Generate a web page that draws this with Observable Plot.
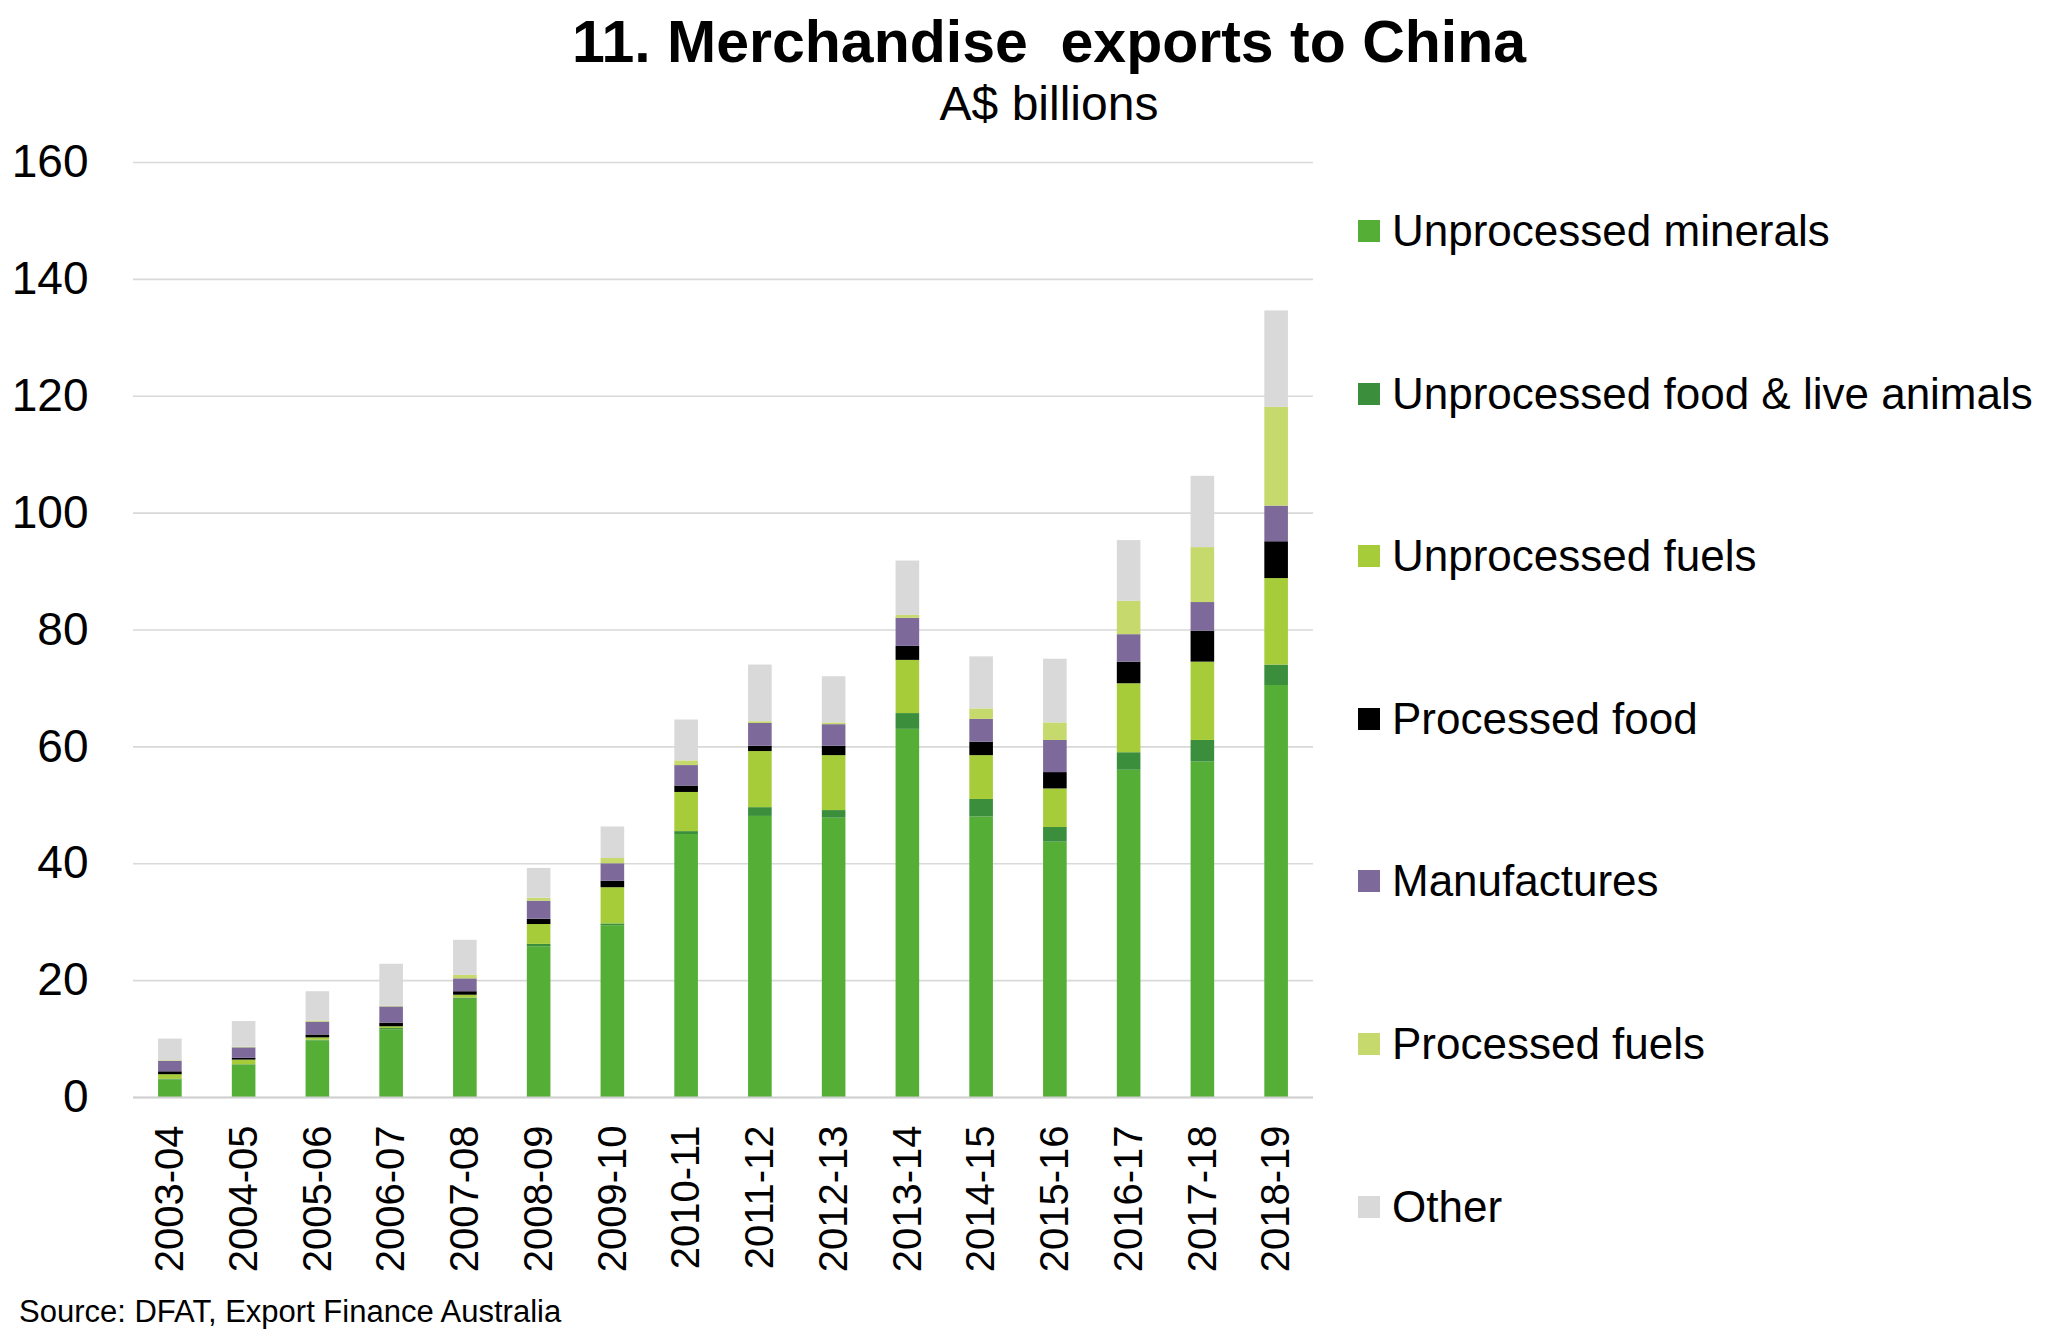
<!DOCTYPE html>
<html>
<head>
<meta charset="utf-8">
<script src="https://cdn.jsdelivr.net/npm/d3@7"></script>
<script src="https://cdn.jsdelivr.net/npm/@observablehq/plot@0.6"></script>
<style>
  html, body { margin: 0; padding: 0; background: #fff; }
  #root { position: relative; width: 2048px; height: 1340px; overflow: hidden; font-family: "Liberation Sans", Arial, sans-serif; color: #000; }
  #title { position: absolute; left: 549px; width: 1000px; top: 13px; text-align: center; font-size: 59px; font-weight: bold; line-height: 1; white-space: pre; }
  #subtitle { position: absolute; left: 549px; width: 1000px; top: 80px; text-align: center; font-size: 48px; line-height: 1; }
  #chart { position: absolute; left: 0; top: 0; }
  #legend { position: absolute; left: 1358px; top: 0; }
  .item { position: absolute; left: 0; display: flex; align-items: center; height: 44px; font-size: 44px; line-height: 1; white-space: nowrap; }
  .sw { width: 22px; height: 22px; margin-right: 12px; flex: none; }
  #source { position: absolute; left: 19px; top: 1296px; font-size: 31px; line-height: 1; }
</style>
</head>
<body>
<div id="root">
  <div id="chart"></div>
  <div id="title"></div>
  <div id="subtitle"></div>
  <div id="legend"></div>
  <div id="source"></div>
</div>
<script>
const titleText = "11. Merchandise  exports to China";
const subtitleText = "A$ billions";
const sourceText = "Source: DFAT, Export Finance Australia";

const years = ["2003-04","2004-05","2005-06","2006-07","2007-08","2008-09","2009-10","2010-11",
               "2011-12","2012-13","2013-14","2014-15","2015-16","2016-17","2017-18","2018-19"];

const categories = ["Unprocessed minerals","Unprocessed food & live animals","Unprocessed fuels",
                    "Processed food","Manufactures","Processed fuels","Other"];
const colors = ["#55ae35","#3a8e3c","#a6cd39","#000000","#7e6a9a","#c6d96c","#d9d9d9"];

const unprocessedMinerals = [3.0, 5.5, 9.7, 11.6, 16.8, 25.8, 29.4, 45.0, 48.1, 47.8, 63.0, 48.0, 43.7, 56.0, 57.4, 70.5];
const unprocessedFood     = [0.1, 0.1, 0.1, 0.2, 0.2, 0.4, 0.3, 0.5, 1.5, 1.3, 2.7, 3.0, 2.5, 3.0, 3.7, 3.5];
const unprocessedFuels    = [0.8, 0.8, 0.4, 0.3, 0.5, 3.4, 6.2, 6.7, 9.6, 9.4, 9.1, 7.5, 6.6, 11.8, 13.4, 14.8];
const processedFood       = [0.5, 0.3, 0.5, 0.6, 0.6, 0.9, 1.1, 1.1, 0.9, 1.6, 2.4, 2.3, 2.8, 3.7, 5.3, 6.3];
const manufactures        = [1.8, 1.8, 2.2, 2.8, 2.2, 3.1, 3.0, 3.5, 3.9, 3.7, 4.8, 3.9, 5.5, 4.7, 4.9, 6.1];
const processedFuels      = [0.1, 0.1, 0.2, 0.1, 0.6, 0.5, 0.9, 0.8, 0.3, 0.3, 0.5, 1.8, 3.0, 5.7, 9.4, 16.9];
const otherExports        = [3.7, 4.4, 5.0, 7.2, 6.0, 5.1, 5.4, 7.0, 9.7, 7.9, 9.3, 8.9, 10.9, 10.4, 12.2, 16.5];

const yTicks = [0, 20, 40, 60, 80, 100, 120, 140, 160];

const series = [unprocessedMinerals, unprocessedFood, unprocessedFuels, processedFood, manufactures, processedFuels, otherExports];

const data = [];
categories.forEach((c, ci) => {
  years.forEach((y, yi) => data.push({year: y, category: c, value: series[ci][yi]}));
});

const chart = Plot.plot({
  width: 1330,
  height: 1290,
  marginTop: 162,
  marginBottom: 193,
  marginLeft: 133,
  marginRight: 17,
  style: {fontFamily: "'Liberation Sans', Arial, sans-serif", color: "#000", background: "#fff"},
  x: {domain: years, paddingInner: 0.68, paddingOuter: 0.34, round: false, label: null},
  y: {domain: [0, 160], label: null},
  color: {domain: categories, range: colors},
  marks: [
    Plot.gridY(yTicks, {stroke: "#d9d9d9", strokeOpacity: 1, strokeWidth: 1.6}),
    Plot.barY(data, {x: "year", y: "value", fill: "category", order: categories}),
    Plot.ruleY([0], {stroke: "#d0d0d0", strokeWidth: 1.8}),
    Plot.axisY(yTicks, {tickSize: 0, tickPadding: 45, fontSize: 46, label: null, fill: "#000"}),
    Plot.axisX({tickSize: 0, tickPadding: 28, tickRotate: -90, fontSize: 40, label: null, fill: "#000"})
  ]
});
document.getElementById("chart").appendChild(chart);

document.getElementById("title").textContent = titleText;
document.getElementById("subtitle").textContent = subtitleText;
document.getElementById("source").textContent = sourceText;

const legend = document.getElementById("legend");
const legendTop = 209, legendStep = 162.6;
categories.forEach((c, i) => {
  const item = document.createElement("div");
  item.className = "item";
  item.style.top = (legendTop + i * legendStep) + "px";
  const sw = document.createElement("div");
  sw.className = "sw";
  sw.style.background = colors[i];
  const label = document.createElement("span");
  label.textContent = c;
  item.appendChild(sw);
  item.appendChild(label);
  legend.appendChild(item);
});
</script>
</body>
</html>
